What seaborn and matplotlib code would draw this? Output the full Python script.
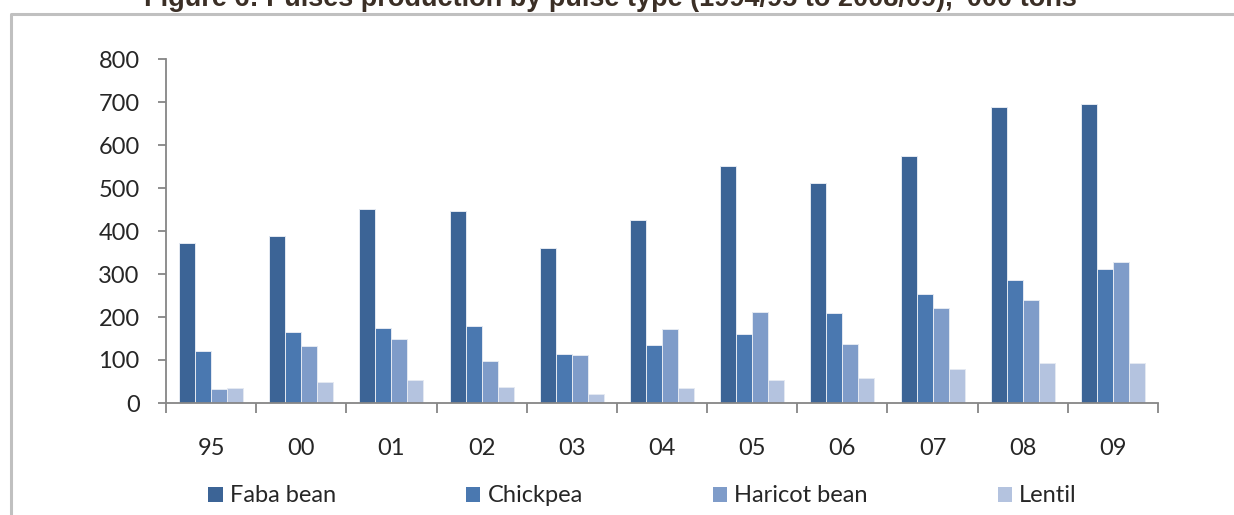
import matplotlib
matplotlib.use("Agg")
import matplotlib.pyplot as plt
from matplotlib.lines import Line2D
from matplotlib.patches import Patch
import seaborn as sns
import pandas as pd

# ---- data ----
years = ["95", "00", "01", "02", "03", "04", "05", "06", "07", "08", "09"]
faba_bean = [373, 388, 451, 447, 360, 426, 551, 512, 575, 688, 695]
chickpea = [121, 164, 174, 178, 113, 134, 160, 209, 253, 285, 311]
haricot_bean = [33, 132, 149, 97, 111, 171, 211, 137, 222, 240, 329]
lentil = [36, 49, 54, 37, 22, 34, 53, 57, 79, 93, 94]
series_names = ["Faba bean", "Chickpea", "Haricot bean", "Lentil"]
colors = ["#3C6496", "#4A78B0", "#7F9CC9", "#B4C3DF"]
y_ticks = [0, 100, 200, 300, 400, 500, 600, 700, 800]
title = "Figure 6: Pulses production by pulse type (1994/95 to 2008/09), '000 tons"

rows = []
for name, vals in zip(series_names, [faba_bean, chickpea, haricot_bean, lentil]):
    for y, v in zip(years, vals):
        rows.append({"year": y, "value": v, "type": name})
df = pd.DataFrame(rows)

sns.set_style("white")
plt.rcParams["font.family"] = ["Lato", "DejaVu Sans"]

W, H = 1234, 515
fig = plt.figure(figsize=(W / 100, H / 100), dpi=100)
ax = fig.add_axes([166 / W, 1 - 403 / H, (1158 - 166) / W, (403 - 59) / H])

sns.barplot(data=df, x="year", y="value", hue="type", order=years,
            hue_order=series_names, palette=colors, width=0.71, saturation=1,
            edgecolor="#e4e9f2", linewidth=0.7, ax=ax, errorbar=None,
            legend=False)

ax.set_xlim(-0.5, len(years) - 0.5)
ax.set_ylim(0, 800)
ax.set_yticks(y_ticks)
ax.set_xlabel("")
ax.set_ylabel("")
for s in ["top", "right"]:
    ax.spines[s].set_visible(False)
for s in ["left", "bottom"]:
    ax.spines[s].set_color("#868686")
    ax.spines[s].set_linewidth(1.3)

fs = 17
ax.tick_params(axis="y", which="major", length=6, width=1.3, color="#868686",
               labelsize=fs, pad=13, left=True, direction="out")
ax.set_xticks(range(len(years)))
ax.set_xticklabels(years)
ax.set_xticks([i - 0.5 for i in range(len(years) + 1)], minor=True)
ax.tick_params(axis="x", which="major", length=0, labelsize=fs, pad=25)
ax.tick_params(axis="x", which="minor", length=7, width=1.3, color="#868686",
               bottom=True, direction="out")
ax.grid(False)

handles = [Patch(facecolor=c, edgecolor="none") for c in colors]
fig.legend(handles, series_names, loc="center left",
           bbox_to_anchor=(208 / W, 1 - 496 / H), ncol=4, frameon=False,
           fontsize=fs, borderaxespad=0, borderpad=0, handlelength=0.62,
           handleheight=0.6, handletextpad=0.3, columnspacing=5.5)

# outer frame (top and left, runs off the picture)
fig.add_artist(Line2D([11 / W, 11 / W, 1.05], [-0.05, 1 - 13.5 / H, 1 - 13.5 / H],
                      transform=fig.transFigure, color="#c0c0c0", linewidth=2.2))

t = fig.text(610 / W, 1 - 6.5 / H, title, ha="center", va="baseline",
             fontsize=16.5, fontweight="bold", color="#3b2f26",
             family=["Liberation Sans", "DejaVu Sans"])
fig.canvas.draw()
bb = t.get_window_extent()
t.set_fontsize(16.5 * 931 / bb.width)

fig.savefig("out.png", dpi=100)
